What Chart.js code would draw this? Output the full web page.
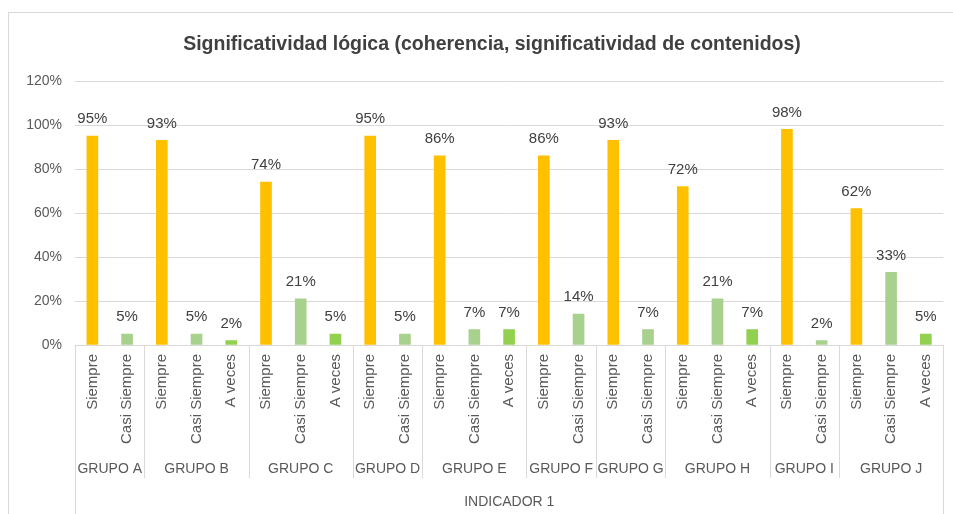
<!DOCTYPE html>
<html>
<head>
<meta charset="utf-8">
<script src="https://cdn.jsdelivr.net/npm/chart.js@4"></script>
<style>
  html, body { margin: 0; padding: 0; background: #ffffff; }
  #wrap { width: 953px; height: 514px; position: relative; }
</style>
</head>
<body>
<div id="wrap"><canvas id="c" width="953" height="514"></canvas></div>
<script>
// ---- Data ----
const title = 'Significatividad lógica (coherencia, significatividad de contenidos)';
const indicator = 'INDICADOR 1';
const groups = ['GRUPO A','GRUPO B','GRUPO C','GRUPO D','GRUPO E','GRUPO F','GRUPO G','GRUPO H','GRUPO I','GRUPO J'];
const seriesNames = ['Siempre','Casi Siempre','A veces'];
const siempre     = [95, 93, 74, 95, 86, 86, 93, 72, 98, 62];
const casiSiempre = [ 5,  5, 21,  5,  7, 14,  7, 21,  2, 33];
const aVeces      = [null, 2, 5, null, 7, null, null, 7, null, 5];
const yTicks = [0, 20, 40, 60, 80, 100, 120];

// ---- Build flat categories from series ----
const seriesData = [siempre, casiSiempre, aVeces];
const labels = [];
const groupSpans = []; // [startIndex, endIndex]
const flat = [[], [], []];
groups.forEach((g, gi) => {
  const start = labels.length;
  seriesData.forEach((s, si) => {
    if (s[gi] !== null && s[gi] !== undefined) {
      labels.push(seriesNames[si]);
      flat.forEach((f, fi) => f.push(fi === si ? s[gi] : null));
    }
  });
  groupSpans.push([start, labels.length - 1]);
});

const colors = ['#FFC000', '#A9D18E', '#92D050'];
const FONT = "'Liberation Sans', Arial, sans-serif";

const multiLevelPlugin = {
  id: 'multiLevel',
  afterDraw(chart) {
    const ctx = chart.ctx;
    const x = chart.scales.x;
    const area = chart.chartArea;
    const half = (x.getPixelForValue(1) - x.getPixelForValue(0)) / 2;
    ctx.save();
    // outer chart border
    ctx.strokeStyle = '#d9d9d9';
    ctx.lineWidth = 1;
    ctx.strokeRect(8.5, 12.5, 960, 520);
    // title
    ctx.fillStyle = '#404040';
    ctx.font = "bold 19.5px " + FONT;
    ctx.textAlign = 'center';
    ctx.textBaseline = 'middle';
    ctx.fillText(title, 492, 45);
    // separators
    ctx.strokeStyle = '#d9d9d9';
    ctx.beginPath();
    groupSpans.forEach((sp, i) => {
      const left = Math.round(x.getPixelForValue(sp[0]) - half) + 0.5;
      const bottom = i === 0 ? 514 : 478;
      ctx.moveTo(left, area.bottom);
      ctx.lineTo(left, bottom);
    });
    const rightEdge = Math.round(x.getPixelForValue(labels.length - 1) + half) + 0.5;
    ctx.moveTo(rightEdge, area.bottom);
    ctx.lineTo(rightEdge, 514);
    ctx.stroke();
    // group labels
    ctx.fillStyle = '#595959';
    ctx.font = "14px " + FONT;
    groupSpans.forEach((sp, i) => {
      const cx = (x.getPixelForValue(sp[0]) + x.getPixelForValue(sp[1])) / 2;
      ctx.fillText(groups[i], cx, 469);
    });
    ctx.fillText(indicator, (area.left + rightEdge) / 2, 502);
    // data labels
    ctx.fillStyle = '#404040';
    ctx.font = "15px " + FONT;
    chart.data.datasets.forEach((ds, di) => {
      const meta = chart.getDatasetMeta(di);
      meta.data.forEach((bar, i) => {
        const v = ds.data[i];
        if (v === null || v === undefined) return;
        ctx.fillText(v + '%', bar.x, bar.y - 17);
      });
    });
    ctx.restore();
  }
};

new Chart(document.getElementById('c'), {
  type: 'bar',
  data: {
    labels: labels,
    datasets: flat.map((d, i) => ({
      label: seriesNames[i],
      data: d,
      backgroundColor: colors[i],
      barThickness: 11,
      skipNull: true
    }))
  },
  options: {
    responsive: false,
    animation: false,
    devicePixelRatio: 1,
    layout: { padding: { left: 0, right: 8, top: 81, bottom: 0 } },
    plugins: { legend: { display: false }, tooltip: { enabled: false }, title: { display: false } },
    scales: {
      x: {
        grid: { display: false, drawTicks: false },
        border: { display: true, color: '#d9d9d9' },
        ticks: {
          autoSkip: false, minRotation: 90, maxRotation: 90,
          color: '#595959', font: { family: FONT, size: 15 }, padding: 9
        },
        afterFit(scale) { scale.height = 169; }
      },
      y: {
        min: 0, max: 120,
        afterBuildTicks(scale) { scale.ticks = yTicks.map(v => ({ value: v })); },
        grid: { color: '#d9d9d9', drawTicks: false },
        border: { display: false },
        ticks: {
          color: '#595959', font: { family: FONT, size: 14 }, padding: 13,
          callback: v => v + '%'
        },
        afterFit(scale) { scale.width = 75; }
      }
    }
  },
  plugins: [multiLevelPlugin]
});
</script>
</body>
</html>
